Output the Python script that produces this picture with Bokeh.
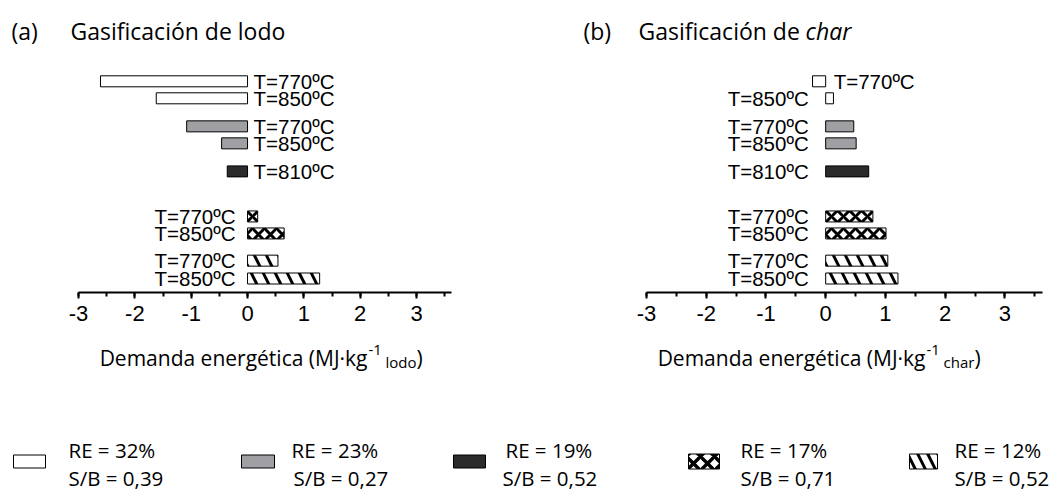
from bokeh.plotting import figure
from bokeh.models import Range1d, SingleIntervalTicker, Label, ColumnDataSource
from bokeh.layouts import column, row
from bokeh.core.properties import value
from bokeh.embed import file_html
from bokeh.resources import INLINE

# ---------------------------------------------------------------------------
# Data: one row per experiment, top to bottom
# ---------------------------------------------------------------------------
temps = [770, 850, 770, 850, 810, 770, 850, 770, 850]          # ºC
series_of_row = [0, 0, 1, 1, 2, 3, 3, 4, 4]                    # RE / S/B group
row_pos = [1, 2, 3.65, 4.65, 6.3, 8.95, 9.95, 11.55, 12.6]     # vertical slots

# Energy demand, MJ per kg of sludge (a) and per kg of char (b)
demand_lodo = [-2.61, -1.62, -1.08, -0.46, -0.36, 0.18, 0.65, 0.54, 1.28]
demand_char = [-0.22, 0.13, 0.47, 0.51, 0.72, 0.79, 1.01, 1.04, 1.21]

# Groups shown in the legend
series_re = ["32%", "23%", "19%", "17%", "12%"]
series_sb = ["0,39", "0,27", "0,52", "0,71", "0,52"]

tick_values = [-3, -2, -1, 0, 1, 2, 3]

# ---------------------------------------------------------------------------
# Styles
# ---------------------------------------------------------------------------
series_fill = ["#ffffff", "#a0a0a4", "#2b2b2b", "#ffffff", "#ffffff"]
series_hatch = [" ", " ", " ", "diagonal_cross", "left_diagonal_line"]
series_hatch_scale = [10, 10, 10, 12, 24]
series_hatch_weight = [1, 1, 1, 3, 3]

LABEL_FONT = "Liberation Sans"
TEXT_FONT = "Open Sans"

PANEL_W, PANEL_H = 531, 330
FRAME_H = 292
ROW_PX = 17.0
ROW1_PX = 80.8
BAR_H = 11.0 / ROW_PX


def panel(vals, x_end, axis_left, axis_w, gap_neg, gap_pos, heading):
    """One horizontal-bar panel; the frame spans the whole panel width and
    the axis is limited to [-3, x_end] with bounds."""
    upp = (x_end + 3) / axis_w                      # data units per pixel
    x0 = -3 - axis_left * upp
    x1 = -3 + (PANEL_W - axis_left) * upp
    y_top = 1 - ROW1_PX / ROW_PX
    y_bot = 1 + (FRAME_H - ROW1_PX) / ROW_PX
    p = figure(width=PANEL_W, height=PANEL_H, output_backend="svg",
               toolbar_location=None, title=None,
               x_range=Range1d(x0, x1), y_range=Range1d(y_bot, y_top),
               min_border_left=0, min_border_right=0, min_border_top=0,
               min_border_bottom=PANEL_H - FRAME_H,
               y_axis_location=None, x_axis_location="below")
    p.outline_line_color = None
    p.xgrid.visible = False
    p.ygrid.visible = False
    p.background_fill_color = "white"
    p.border_fill_color = "white"

    def xd(px):
        return x0 + px * upp

    def yd(py):
        return 1 + (py - ROW1_PX) / ROW_PX

    src = ColumnDataSource(dict(
        y=row_pos,
        v=vals,
        fill=[series_fill[s] for s in series_of_row],
        hatch=[series_hatch[s] for s in series_of_row],
        hscale=[series_hatch_scale[s] for s in series_of_row],
        hweight=[series_hatch_weight[s] for s in series_of_row],
        label=[f"T={t}ºC" for t in temps],
        align=["left" if v < 0 else "right" for v in vals],
        xoff=[gap_neg if v < 0 else -gap_pos for v in vals],
    ))
    p.hbar(y="y", left=0, right="v", height=BAR_H, source=src,
           fill_color="fill", line_color="black", line_width=1,
           hatch_pattern="hatch", hatch_color="black",
           hatch_scale="hscale", hatch_weight="hweight")
    p.text(x=0, y="y", text="label", source=src, text_align="align",
           x_offset="xoff", text_baseline="middle",
           text_font=value(LABEL_FONT), text_font_size="20.5px",
           text_color="black")

    ax = p.xaxis[0]
    ax.bounds = (-3, x_end)
    ax.ticker = SingleIntervalTicker(interval=1, num_minor_ticks=2)
    ax.major_label_overrides = {t: str(t) for t in tick_values}
    ax.axis_line_width = 2
    ax.axis_line_color = "black"
    ax.major_tick_line_width = 2
    ax.minor_tick_line_width = 2
    ax.major_tick_line_color = "black"
    ax.minor_tick_line_color = "black"
    ax.major_tick_in = 0
    ax.major_tick_out = 6
    ax.minor_tick_in = 0
    ax.minor_tick_out = 4
    ax.major_label_text_font = LABEL_FONT
    ax.major_label_text_font_size = "22px"
    ax.major_label_text_color = "black"
    ax.major_label_standoff = 7

    # panel heading pieces: (x pixel, text, style)
    for px, txt, style in heading:
        p.add_layout(Label(x=xd(px), y=yd(30), text=txt, text_font=TEXT_FONT,
                           text_font_style=style, text_font_size="23px",
                           text_baseline="middle", text_color="black"))
    return p


pa = panel(demand_lodo, 3.62, 78, 373, 6, 12,
           [(11, "(a)", "normal"), (70, "Gasificación de lodo", "normal")])
pb = panel(demand_char, 3.63, 115, 396, 8, 17,
           [(52, "(b)", "normal"), (107, "Gasificación de", "normal"),
            (274, "char", "italic")])

# ---------------------------------------------------------------------------
# Lower strip: axis titles and legend, in page pixel coordinates
# ---------------------------------------------------------------------------
STRIP_TOP = PANEL_H
strip = figure(width=1062, height=492 - STRIP_TOP, output_backend="svg",
               toolbar_location=None, title=None,
               x_range=Range1d(0, 1062), y_range=Range1d(492, STRIP_TOP),
               min_border_left=0, min_border_right=0, min_border_top=0,
               min_border_bottom=0, x_axis_location=None,
               y_axis_location=None)
strip.outline_line_color = None
strip.xgrid.visible = False
strip.ygrid.visible = False


def txt(x, y, s, size, align="left", style="normal"):
    strip.text(x=[x], y=[y], text=[s], text_align=align,
               text_baseline="middle", text_font=value(TEXT_FONT),
               text_font_style=style, text_font_size=size,
               text_color="black")


# axis titles: main part, superscript, subscript, closing parenthesis
for end_x, unit_sub in [(367, "lodo"), (925, "char")]:
    txt(end_x, 357, "Demanda energética (MJ·kg", "21px", align="right")
    txt(end_x + 1, 349, "-1", "15px")
    txt(end_x + 18, 361, unit_sub, "15px")
    txt(end_x + 49, 357, ")", "21px")

# legend
box_left = [13, 241, 453, 688, 909]
box_w = [32, 33, 32, 31, 28]
box_h = [13, 13, 13, 15, 15]
re_left = [68, 291, 505, 740, 954]
sb_left = [68, 293, 502, 740, 954]

leg_src = ColumnDataSource(dict(
    x=[l + w / 2 for l, w in zip(box_left, box_w)],
    w=box_w, h=box_h,
    fill=series_fill, hatch=series_hatch,
    hscale=[12, 12, 12, 14, 20], hweight=[1, 1, 1, 3.4, 3],
))
strip.rect(x="x", y=461, width="w", height="h", source=leg_src,
           fill_color="fill", line_color="black", line_width=1,
           hatch_pattern="hatch", hatch_color="black",
           hatch_scale="hscale", hatch_weight="hweight")
strip.text(x=re_left, y=[449] * 5, text=["RE = " + r for r in series_re],
           text_baseline="middle", text_font=value(TEXT_FONT),
           text_font_size="20.5px", text_color="black")
strip.text(x=sb_left, y=[477] * 5, text=["S/B = " + s for s in series_sb],
           text_baseline="middle", text_font=value(TEXT_FONT),
           text_font_size="20.5px", text_color="black")

layout = column(row(pa, pb), strip)
open("out.html", "w").write(file_html(layout, INLINE))
